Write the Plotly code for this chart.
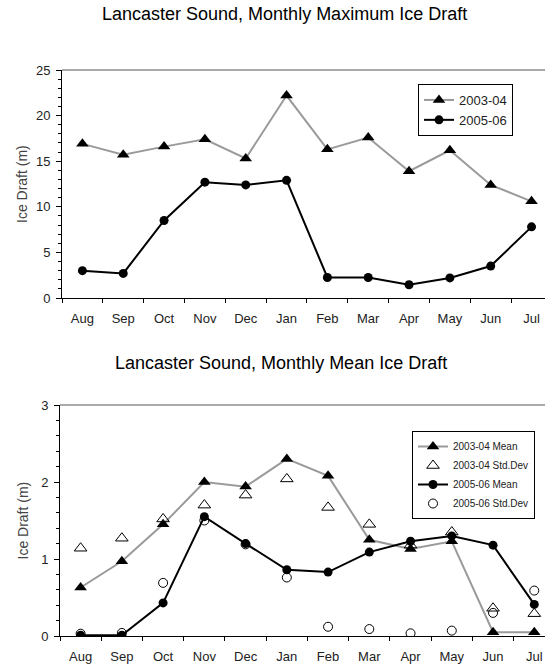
import plotly.graph_objects as go

months = ["Aug", "Sep", "Oct", "Nov", "Dec", "Jan", "Feb", "Mar", "Apr", "May", "Jun", "Jul"]

max_2003 = [16.9, 15.7, 16.6, 17.4, 15.3, 22.2, 16.3, 17.6, 13.9, 16.2, 12.4, 10.6]
max_2005 = [3.0, 2.7, 8.5, 12.7, 12.4, 12.9, 2.25, 2.25, 1.45, 2.2, 3.5, 7.8]

mean_2003 = [0.63, 0.97, 1.45, 2.00, 1.94, 2.30, 2.08, 1.25, 1.13, 1.23, 0.05, 0.05]
std_2003 = [1.14, 1.27, 1.52, 1.70, 1.83, 2.04, 1.67, 1.45, 1.18, 1.35, 0.36, 0.29]
mean_2005 = [0.01, 0.01, 0.43, 1.55, 1.20, 0.86, 0.83, 1.09, 1.23, 1.30, 1.18, 0.41]
std_2005 = [0.03, 0.04, 0.69, 1.50, 1.19, 0.76, 0.12, 0.09, 0.035, 0.07, 0.30, 0.59]

W, H = 545, 670
FONT = "Liberation Sans, Arial, sans-serif"

def px_x(v):
    return v / W

def px_y(v):
    return 1 - v / H

fig = go.Figure()

# Top chart
fig.add_trace(go.Scatter(x=months, y=max_2003, name="2003-04", mode="lines+markers",
                         line=dict(color="#9a9a9a", width=2),
                         marker=dict(symbol="triangle-up", size=11, color="black"),
                         xaxis="x", yaxis="y", legend="legend"))
fig.add_trace(go.Scatter(x=months, y=max_2005, name="2005-06", mode="lines+markers",
                         line=dict(color="black", width=2),
                         marker=dict(symbol="circle", size=9, color="black"),
                         xaxis="x", yaxis="y", legend="legend"))

# Bottom chart
fig.add_trace(go.Scatter(x=months, y=mean_2003, name="2003-04 Mean", mode="lines+markers",
                         line=dict(color="#9a9a9a", width=2),
                         marker=dict(symbol="triangle-up", size=11, color="black"),
                         xaxis="x2", yaxis="y2", legend="legend2"))
fig.add_trace(go.Scatter(x=months, y=std_2003, name="2003-04 Std.Dev", mode="markers",
                         marker=dict(symbol="triangle-up-open", size=11, color="black",
                                     line=dict(width=1)),
                         xaxis="x2", yaxis="y2", legend="legend2"))
fig.add_trace(go.Scatter(x=months, y=mean_2005, name="2005-06 Mean", mode="lines+markers",
                         line=dict(color="black", width=2),
                         marker=dict(symbol="circle", size=9, color="black"),
                         xaxis="x2", yaxis="y2", legend="legend2"))
fig.add_trace(go.Scatter(x=months, y=std_2005, name="2005-06 Std.Dev", mode="markers",
                         marker=dict(symbol="circle-open", size=9, color="black",
                                     line=dict(width=1)),
                         xaxis="x2", yaxis="y2", legend="legend2"))

top_l, top_t, top_b = 62, 70, 298
bot_l, bot_t, bot_b = 60, 405, 636

xcommon = dict(type="category", showline=True, linecolor="black", linewidth=1,
               ticks="outside", ticklen=4, tickcolor="black", tickson="boundaries",
               showgrid=False, zeroline=False, automargin=False, ticklabelstandoff=8,
               tickfont=dict(family=FONT, size=13, color="#222"))
ycommon = dict(showline=True, linecolor="black", linewidth=1, ticks="outside",
               ticklen=5, tickcolor="black", showgrid=False, zeroline=False,
               automargin=False, ticklabelstandoff=3,
               tickfont=dict(family=FONT, size=13, color="#222"))

fig.update_layout(
    template="none",
    width=W, height=H, margin=dict(l=0, r=0, t=0, b=0, autoexpand=False),
    paper_bgcolor="white", plot_bgcolor="white",
    font=dict(family=FONT, color="#222"),
    xaxis=dict(domain=[px_x(top_l), 1], range=[-0.5, 11.33], anchor="y", **xcommon),
    yaxis=dict(domain=[px_y(top_b), px_y(top_t)], range=[0, 25], dtick=5, anchor="x",
               minor=dict(dtick=1, ticks="outside", ticklen=3, tickcolor="black"),
               **ycommon),
    xaxis2=dict(domain=[px_x(bot_l), 1], range=[-0.5, 11.26], anchor="y2", **xcommon),
    yaxis2=dict(domain=[px_y(bot_b), px_y(bot_t)], range=[0, 3], dtick=1, anchor="x2",
                minor=dict(dtick=0.2, ticks="outside", ticklen=3, tickcolor="black"),
                **ycommon),
    legend=dict(x=px_x(513), y=px_y(84), xanchor="right", yanchor="top",
                bordercolor="black", borderwidth=1, bgcolor="white",
                font=dict(family=FONT, size=13, color="#222"), itemwidth=30,
                tracegroupgap=0),
    legend2=dict(x=px_x(535), y=px_y(431), xanchor="right", yanchor="top",
                 bordercolor="black", borderwidth=1, bgcolor="white",
                 font=dict(family=FONT, size=10, color="#222"), itemwidth=30,
                 tracegroupgap=0),
    showlegend=True,
)

# top border lines
fig.add_shape(type="line", xref="paper", yref="paper", x0=px_x(top_l), x1=1,
              y0=px_y(top_t), y1=px_y(top_t), line=dict(color="#555", width=1))
fig.add_shape(type="line", xref="paper", yref="paper", x0=px_x(bot_l), x1=1,
              y0=px_y(bot_t), y1=px_y(bot_t), line=dict(color="#555", width=1))

annots = [
    dict(text="Lancaster Sound, Monthly Maximum Ice Draft", x=px_x(284), y=px_y(14),
         font=dict(size=18, color="black")),
    dict(text="Lancaster Sound, Monthly Mean Ice Draft", x=px_x(281), y=px_y(363),
         font=dict(size=18, color="black")),
    dict(text="Ice Draft (m)", x=px_x(22), y=px_y((top_t + top_b) / 2), textangle=-90,
         font=dict(size=14, color="#444")),
    dict(text="Ice Draft (m)", x=px_x(22), y=px_y((bot_t + bot_b) / 2), textangle=-90,
         font=dict(size=14, color="#444")),
]
for a in annots:
    a["font"]["family"] = FONT
    fig.add_annotation(xref="paper", yref="paper", xanchor="center", yanchor="middle",
                       showarrow=False, **a)

fig.write_html("out.html", config={"displayModeBar": False},
               post_script="document.body.style.margin='0';document.body.style.overflow='hidden';")
